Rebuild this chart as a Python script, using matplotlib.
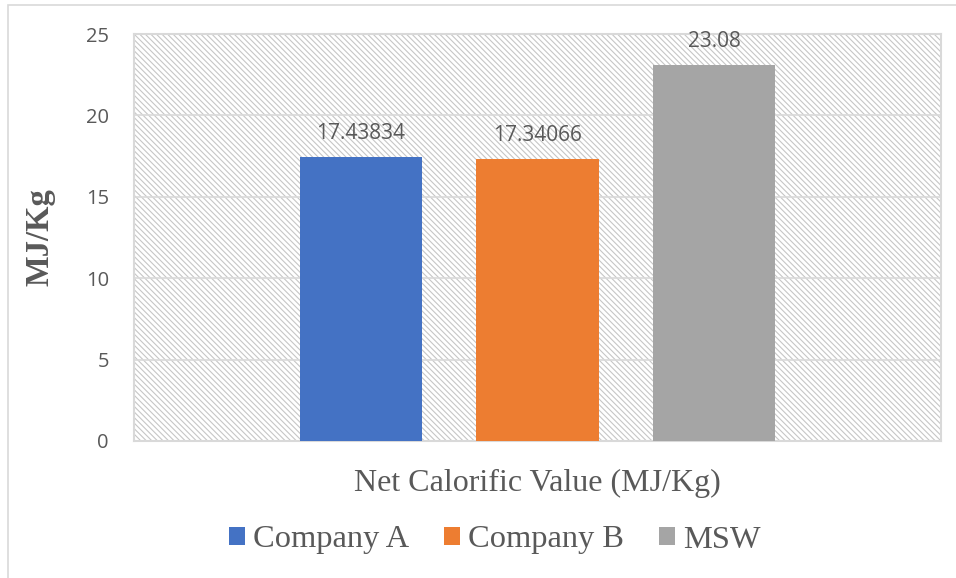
import matplotlib.pyplot as plt
from matplotlib.patches import Rectangle

# Net calorific value per sample source
categories = ["Net Calorific Value (MJ/Kg)"]
series_names = ["Company A", "Company B", "MSW"]
series_values = [17.43834, 17.34066, 23.08]
value_labels = ["17.43834", "17.34066", "23.08"]
colors = ["#4472C4", "#ED7D31", "#A5A5A5"]
y_ticks = [0, 5, 10, 15, 20, 25]

TEXT_COLOR = "#595959"
GRID_COLOR = "#d9d9d9"


def main():
    plt.rcParams["hatch.color"] = "#c6c6c6"
    plt.rcParams["hatch.linewidth"] = 0.8

    fig = plt.figure(figsize=(9.56, 5.78), dpi=100)
    ax = fig.add_axes([134 / 956, 1 - 441 / 578, 807 / 956, 407 / 578])

    # hatched plot area background
    ax.set_facecolor("white")
    ax.add_patch(Rectangle((0, 0), 1, 1, transform=ax.transAxes, facecolor="white",
                           hatch="\\" * 6, linewidth=0, zorder=0))

    spacing = 0.2193
    width = 0.1512
    for i, (name, val, col) in enumerate(zip(series_names, series_values, colors)):
        x = (i - 1) * spacing
        ax.bar(x, val, width=width, color=col, label=name, zorder=3)
        ax.annotate(value_labels[i], (x, val), xytext=(0, 17), textcoords="offset points",
                    ha="center", va="center", fontsize=15, color=TEXT_COLOR,
                    family="Open Sans", zorder=4)

    ax.set_xlim(-0.5, 0.5)
    ax.set_ylim(0, 25)
    ax.set_yticks(y_ticks)
    ax.set_xticks([0])
    ax.set_xticklabels(categories, family="Liberation Serif", fontsize=23, color=TEXT_COLOR)
    for lbl in ax.get_yticklabels():
        lbl.set_family("Open Sans")
        lbl.set_fontsize(14.5)
        lbl.set_color(TEXT_COLOR)
    ax.tick_params(axis="both", length=0)
    ax.tick_params(axis="y", pad=18)
    ax.tick_params(axis="x", pad=20)
    ax.grid(axis="y", color=GRID_COLOR, linewidth=1.2, zorder=1)
    for side in ax.spines.values():
        side.set_color(GRID_COLOR)
        side.set_linewidth(1.5)

    ax.set_ylabel("MJ/Kg", family="Liberation Serif", fontweight="bold", fontsize=23.5,
                  color=TEXT_COLOR, labelpad=22)

    leg = fig.legend(loc="center", bbox_to_anchor=(495 / 956, 1 - 540 / 578), ncol=3,
                     frameon=False, prop={"family": "Liberation Serif", "size": 23.4},
                     handlelength=0.49, handleheight=0.49, handletextpad=0.25,
                     columnspacing=1.08, borderpad=0, borderaxespad=0)
    for t in leg.get_texts():
        t.set_color(TEXT_COLOR)

    # outer chart frame
    fig.add_artist(Rectangle((8 / 956, -0.1), 1.0, 1 - 5 / 578 + 0.1,
                             transform=fig.transFigure, fill=False,
                             edgecolor=GRID_COLOR, linewidth=1.2))

    fig.savefig("out.png", dpi=100)


if __name__ == "__main__":
    main()
